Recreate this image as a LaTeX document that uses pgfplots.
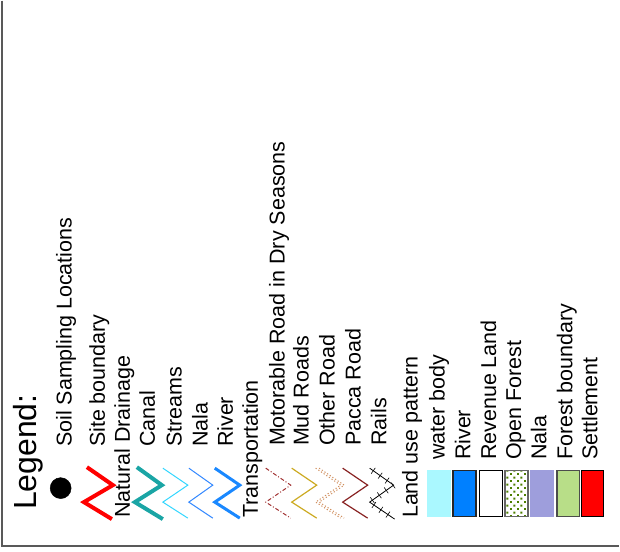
\documentclass[border=0pt]{standalone}
\usepackage{pgfplots}
\pgfplotsset{compat=1.18}
\usepackage{fontspec}
\setmainfont{Liberation Sans}
\usetikzlibrary{decorations.markings,patterns.meta}

\definecolor{canal}{HTML}{1AA5A5}
\definecolor{stream}{HTML}{33D6FF}
\definecolor{nala}{HTML}{3388FF}
\definecolor{river}{HTML}{1A88FF}
\definecolor{motor}{HTML}{A03030}
\definecolor{mud}{HTML}{CCAA22}
\definecolor{other}{HTML}{D09060}
\definecolor{pacca}{HTML}{882222}
\definecolor{water}{HTML}{AAF8FF}
\definecolor{riverland}{HTML}{0080FF}
\definecolor{nalaland}{HTML}{9E9EDC}
\definecolor{forest}{HTML}{B8DE88}
\definecolor{dots}{HTML}{4D7F00}

\tikzdeclarepattern{name=fdots, type=uncolored,
  bounding box={(0,0) and (7pt,7pt)}, tile size={(7pt,7pt)},
  code={\fill (0,0) rectangle (2pt,2pt); \fill (3.5pt,3.5pt) rectangle (5.5pt,5.5pt);}}

\tikzset{lbl/.style={rotate=90, anchor=base west, inner sep=0pt,
  font=\fontsize{21.5}{25}\selectfont}}

\begin{document}
\begin{tikzpicture}
\begin{axis}[scale only axis, width=620pt, height=551pt,
  xmin=0, xmax=620, ymin=0, ymax=551, y dir=reverse,
  hide axis, clip=false]

  % frame
  \addplot[draw=none] coordinates {(0,0) (620,551)};
  \addplot[gray!70!black, line width=1.2pt] coordinates {(2,0) (2,546) (620,546)};

  % headings and labels
  \node[lbl, font=\fontsize{32}{36}\selectfont] at (axis cs:37,510) {Legend:};
  \node[lbl] at (axis cs:71.7,447) {Soil Sampling Locations};
  \node[lbl] at (axis cs:105,447) {Site boundary};
  \node[lbl] at (axis cs:130,518) {Natural Drainage};
  \node[lbl] at (axis cs:155,447) {Canal};
  \node[lbl] at (axis cs:181.7,447) {Streams};
  \node[lbl] at (axis cs:207.7,447) {Nala};
  \node[lbl] at (axis cs:233,447) {River};
  \node[lbl] at (axis cs:258,518) {Transportation};
  \node[lbl] at (axis cs:285,446) {Motorable Road in Dry Seasons};
  \node[lbl] at (axis cs:309,446) {Mud Roads};
  \node[lbl] at (axis cs:335,446) {Other Road};
  \node[lbl] at (axis cs:361,446) {Pacca Road};
  \node[lbl] at (axis cs:386.7,446) {Rails};
  \node[lbl] at (axis cs:418,518) {Land use pattern};
  \node[lbl] at (axis cs:445,460) {water body};
  \node[lbl] at (axis cs:470.7,460) {River};
  \node[lbl] at (axis cs:496.7,460) {Revenue Land};
  \node[lbl] at (axis cs:521.7,460) {Open Forest};
  \node[lbl] at (axis cs:547,460) {Nala};
  \node[lbl] at (axis cs:573,460) {Forest boundary};
  \node[lbl] at (axis cs:598,460) {Settlement};

  % soil sampling point
  \addplot[only marks, mark=*, mark size=10.5pt, black] coordinates {(60.7,488)};

  % drainage symbols
  \addplot[red, line width=4pt, line join=miter] coordinates {(87,467) (113,485) (84,502) (112,519)};
  \addplot[canal, line width=4pt, line join=miter] coordinates {(137,467) (162,485) (135,502) (163,519)};
  \addplot[stream, line width=1pt] coordinates {(163,468) (188,485) (163,502) (188,518)};
  \addplot[nala, line width=1pt] coordinates {(189,468) (213,485) (189,502) (213,518)};
  \addplot[river, line width=3pt, line join=miter] coordinates {(215,468) (240,485) (215,502) (240,518)};

  % transport symbols
  \addplot[motor, line width=1pt, dash pattern=on 4pt off 2pt on 1pt off 2pt] coordinates {(266,468) (291,485) (266,502) (291,518)};
  \addplot[mud, line width=1.2pt] coordinates {(292,468) (317,485) (292,502) (317,518)};
  \addplot[other, line width=1pt, dash pattern=on 1.2pt off 2pt] coordinates {(316,468) (341,485) (316,502) (341,518)};
  \addplot[other, line width=1pt, dash pattern=on 1.2pt off 2pt] coordinates {(319.5,468) (344.5,485) (319.5,502) (344.5,518)};
  \addplot[pacca, line width=1.2pt] coordinates {(343,468) (368,485) (343,502) (368,518)};
  \addplot[black, line width=0.8pt, postaction={decorate},
    decoration={markings, mark=between positions 0.05 and 0.97 step 8.5pt with {\draw[line width=0.6pt] (0,-3.5pt)--(0,3.5pt);}}]
    coordinates {(370,468) (394,485) (370,502) (395,519)};

  % land use swatches
  \addplot[draw=none, fill=water] coordinates {(427,470) (451,470) (451,517) (427,517)} -- cycle;
  \addplot[draw=black!85, line width=1.5pt, fill=riverland] coordinates {(453.5,470.5) (476.5,470.5) (476.5,516.5) (453.5,516.5)} -- cycle;
  \addplot[draw=black, line width=1pt, fill=white] coordinates {(479.5,470.5) (502.5,470.5) (502.5,516.5) (479.5,516.5)} -- cycle;
  \addplot[draw=gray!80!black, line width=1.5pt, pattern=fdots, pattern color=dots] coordinates {(505.5,470.5) (528.5,470.5) (528.5,516.5) (505.5,516.5)} -- cycle;
  \addplot[draw=none, fill=nalaland] coordinates {(531,470) (555,470) (555,517) (531,517)} -- cycle;
  \addplot[draw=black!70, line width=1.5pt, fill=forest] coordinates {(557.5,470.5) (580,470.5) (580,516.5) (557.5,516.5)} -- cycle;
  \addplot[draw=black, line width=1.5pt, fill=red] coordinates {(582,470.5) (604,470.5) (604,516.5) (582,516.5)} -- cycle;
\end{axis}
\end{tikzpicture}
\end{document}
